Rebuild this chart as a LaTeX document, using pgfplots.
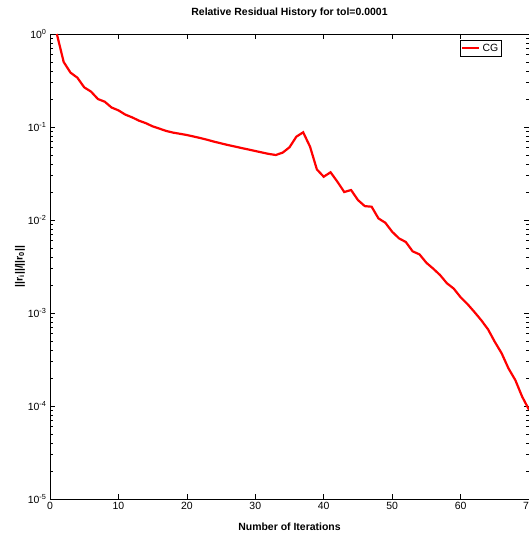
\documentclass[border=0pt]{standalone}
\usepackage{fontspec}
\setmainfont{Liberation Sans}
\usepackage{pgfplots}
\pgfplotsset{compat=1.18}

\begin{document}
\begin{tikzpicture}
\begin{axis}[
  name=ax,
  scale only axis, width=479bp, height=465bp,
  ymode=log,
  xmin=0, xmax=70, ymin=1e-5, ymax=1,
  xtick={0,10,...,70},
  ytick={1e-5,1e-4,1e-3,1e-2,1e-1,1},
  yticklabels={10\textsuperscript{-5},10\textsuperscript{-4},10\textsuperscript{-3},10\textsuperscript{-2},10\textsuperscript{-1},10\textsuperscript{0}},
  /pgf/number format/assume math mode=true,
  tick label style={font=\fontsize{10.5}{12}\selectfont},
  tick align=inside,
  major tick length=5bp, minor tick length=3bp,
  axis line style={line width=0.8pt},
  every tick/.style={black, line width=0.6pt},
  title={\textbf{Relative Residual History for tol=0.0001}},
  title style={font=\fontsize{10.5}{12}\selectfont, at={(axis description cs:0.5,1.032)}, anchor=center},
  xlabel={\textbf{Number of Iterations}},
  xlabel style={font=\fontsize{10.5}{12}\selectfont, at={(axis description cs:0.5,-0.060)}, anchor=center},
  ylabel={\textbf{||r\textsubscript{i}||/||r\textsubscript{0}||}},
  ylabel style={font=\fontsize{10.5}{12}\selectfont, at={(axis description cs:-0.0627,0.5)}, anchor=center},
  legend style={at={(0.9436,0.987)}, anchor=north east, draw=black, line width=0.6pt,
    font=\fontsize{10.5}{12}\selectfont, inner sep=1.5pt},
]
\addplot[red, line width=2.2bp] coordinates {
  (1,1.0) (2,0.50) (3,0.384) (4,0.339) (5,0.267) (6,0.240) (7,0.200) (8,0.187)
  (9,0.162) (10,0.151) (11,0.136) (12,0.127) (13,0.117) (14,0.110) (15,0.1016)
  (16,0.096) (17,0.0906) (18,0.087) (19,0.0845) (20,0.082) (21,0.079) (22,0.076)
  (23,0.0728) (24,0.0695) (25,0.0667) (26,0.064) (27,0.0617) (28,0.0594)
  (29,0.0573) (30,0.0552) (31,0.0532) (32,0.0513) (33,0.0500) (34,0.0530)
  (35,0.0605) (36,0.0787) (37,0.0877) (38,0.0615) (39,0.0350) (40,0.0292)
  (41,0.0326) (42,0.0258) (43,0.0200) (44,0.0210) (45,0.0164) (46,0.0141)
  (47,0.0139) (48,0.0104) (49,0.00935) (50,0.00748) (51,0.00635) (52,0.0058)
  (53,0.0046) (54,0.00427) (55,0.00347) (56,0.0030) (57,0.00256) (58,0.00209)
  (59,0.00183) (60,0.00148) (61,0.00125) (62,0.00103) (63,0.00084) (64,0.00067)
  (65,0.00049) (66,0.000369) (67,0.000254) (68,0.00019) (69,0.000126) (70,0.0000912)
};
\addlegendentry{CG}
\end{axis}
\pgfresetboundingbox
\path[use as bounding box] ([shift={(-50bp,-34bp)}]ax.south west) rectangle ([shift={(0bp,34bp)}]ax.north east);
\end{tikzpicture}
\end{document}
